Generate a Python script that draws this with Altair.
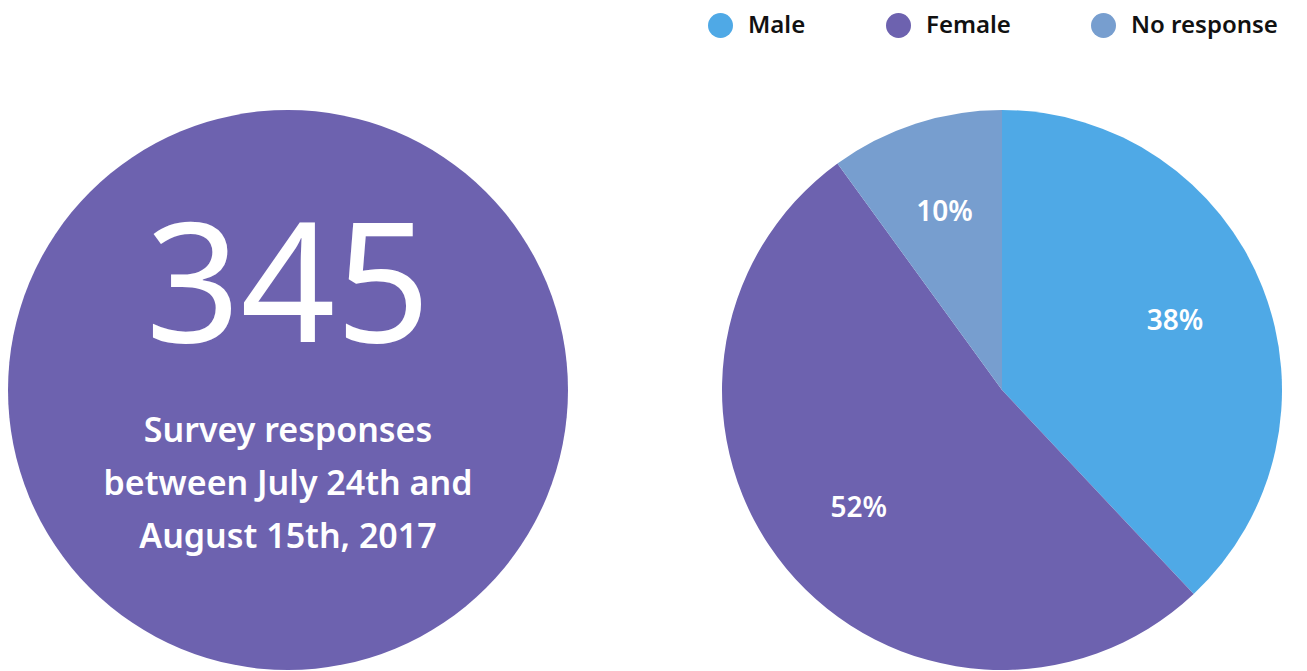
import altair as alt
import pandas as pd

# ---- data ----
categories = ["Male", "Female", "No response"]
shares = [38, 52, 10]
labels = ["38%", "52%", "10%"]
colors = ["#4FA9E6", "#6D62AF", "#779ECF"]

total_responses = [345]
subtitle_lines = ["Survey responses", "between July 24th and", "August 15th, 2017"]

FONT = "Noto Sans"

pie_df = pd.DataFrame({"gender": categories, "share": shares,
                       "label": labels, "order": list(range(len(categories)))})
total_df = pd.DataFrame({"total": total_responses,
                         "num": [str(v) for v in total_responses],
                         "sub": ["\n".join(subtitle_lines)]})

R = 280
W = 560

# ---- left: big circle with total ----
base_left = alt.Chart(total_df)
circle = base_left.mark_arc(outerRadius=R, stroke=None).encode(
    theta=alt.Theta("total:Q"),
    color=alt.value("#6D62AF"),
)
num = base_left.mark_text(font=FONT, fontSize=166, fontWeight=400, color="white",
                          align="center", baseline="alphabetic", dy=-48).encode(
    text="num:N")
sub = base_left.mark_text(font=FONT, fontSize=34, fontWeight=600, color="white",
                          align="center", baseline="alphabetic", dy=52,
                          lineBreak="\n", lineHeight=53).encode(text="sub:N")
left = alt.layer(circle, num, sub).properties(width=W, height=W)

# ---- right: pie ----
base_right = alt.Chart(pie_df).encode(
    theta=alt.Theta("share:Q", stack=True),
    order=alt.Order("order:Q"),
)
pie = base_right.mark_arc(outerRadius=R).encode(
    color=alt.Color("gender:N",
                    scale=alt.Scale(domain=categories, range=colors),
                    legend=alt.Legend(title=None, orient="none", direction="horizontal",
                                      legendX=700, legendY=-97,
                                      symbolType="circle", symbolSize=625,
                                      symbolStrokeWidth=0,
                                      labelFont=FONT, labelFontSize=24,
                                      labelFontWeight=600, labelColor="#111111",
                                      labelOffset=15, columnPadding=80, padding=0,
                                      labelLimit=300)),
)
pie_text = base_right.mark_text(radius=186, font=FONT, fontSize=28, fontWeight=600,
                                color="white").encode(text="label:N")
right = alt.layer(pie, pie_text).properties(width=W, height=W)

chart = alt.hconcat(left, right, spacing=154).properties(
    padding={"top": 5, "left": 0, "right": 0, "bottom": 0}
).configure_view(stroke=None).configure(background="white")

chart.save("out.html", embed_options={"renderer": "svg", "actions": False})
